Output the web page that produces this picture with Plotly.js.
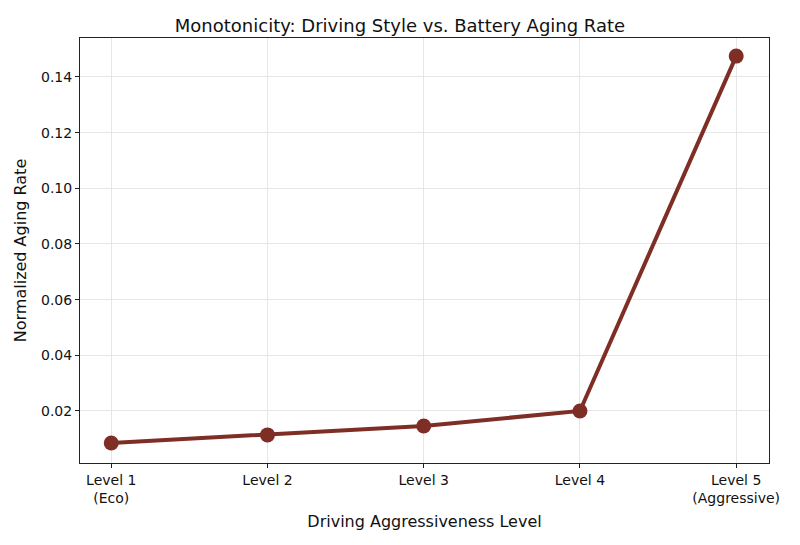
<!DOCTYPE html>
<html>
<head>
<meta charset="utf-8">
<script src="https://cdn.plot.ly/plotly-3.0.1.min.js"></script>
<style>html,body{margin:0;padding:0;background:#fff;}#chart{width:800px;height:545px;}</style>
</head>
<body>
<div id="chart"></div>
<script>
// values
const levels = [0, 1, 2, 3, 4];
const levelLabels = ["Level 1<br>(Eco)", "Level 2", "Level 3", "Level 4", "Level 5<br>(Aggressive)"];
const agingRate = [0.0085, 0.0114, 0.0146, 0.0200, 0.1475];
const yTicks = [0.02, 0.04, 0.06, 0.08, 0.10, 0.12, 0.14];

const trace = {
	x: levels,
	y: agingRate,
	type: "scatter",
	mode: "lines+markers",
	line: { color: "#7e2e24", width: 4 },
	marker: { color: "#7e2e24", size: 15 },
	hoverinfo: "y",
};

const axisCommon = {
	showline: true,
	mirror: true,
	linecolor: "#222",
	linewidth: 1,
	ticks: "outside",
	ticklen: 4,
	tickcolor: "#222",
	gridcolor: "#e6e6e6",
	zeroline: false,
	tickfont: { size: 14, color: "#111" },
};

const layout = {
	width: 800,
	height: 545,
	margin: { t: 38, r: 31, b: 82, l: 80 },
	paper_bgcolor: "#fff",
	plot_bgcolor: "#fff",
	font: { family: "DejaVu Sans, sans-serif", color: "#111" },
	title: { text: "Monotonicity: Driving Style vs. Battery Aging Rate", font: { size: 18 }, x: 0.5, y: 0.965 },
	showlegend: false,
	xaxis: Object.assign({}, axisCommon, {
		range: [-0.2, 4.21],
		tickvals: levels,
		ticktext: levelLabels,
		title: { text: "Driving Aggressiveness Level", font: { size: 16 }, standoff: 10 },
	}),
	yaxis: Object.assign({}, axisCommon, {
		range: [0.0013, 0.154],
		tickvals: yTicks,
		ticktext: yTicks.map(v => v.toFixed(2)),
		title: { text: "Normalized Aging Rate", font: { size: 16 }, standoff: 10 },
	}),
};

Plotly.newPlot("chart", [trace], layout, { displayModeBar: false, staticPlot: true });
</script>
</body>
</html>
